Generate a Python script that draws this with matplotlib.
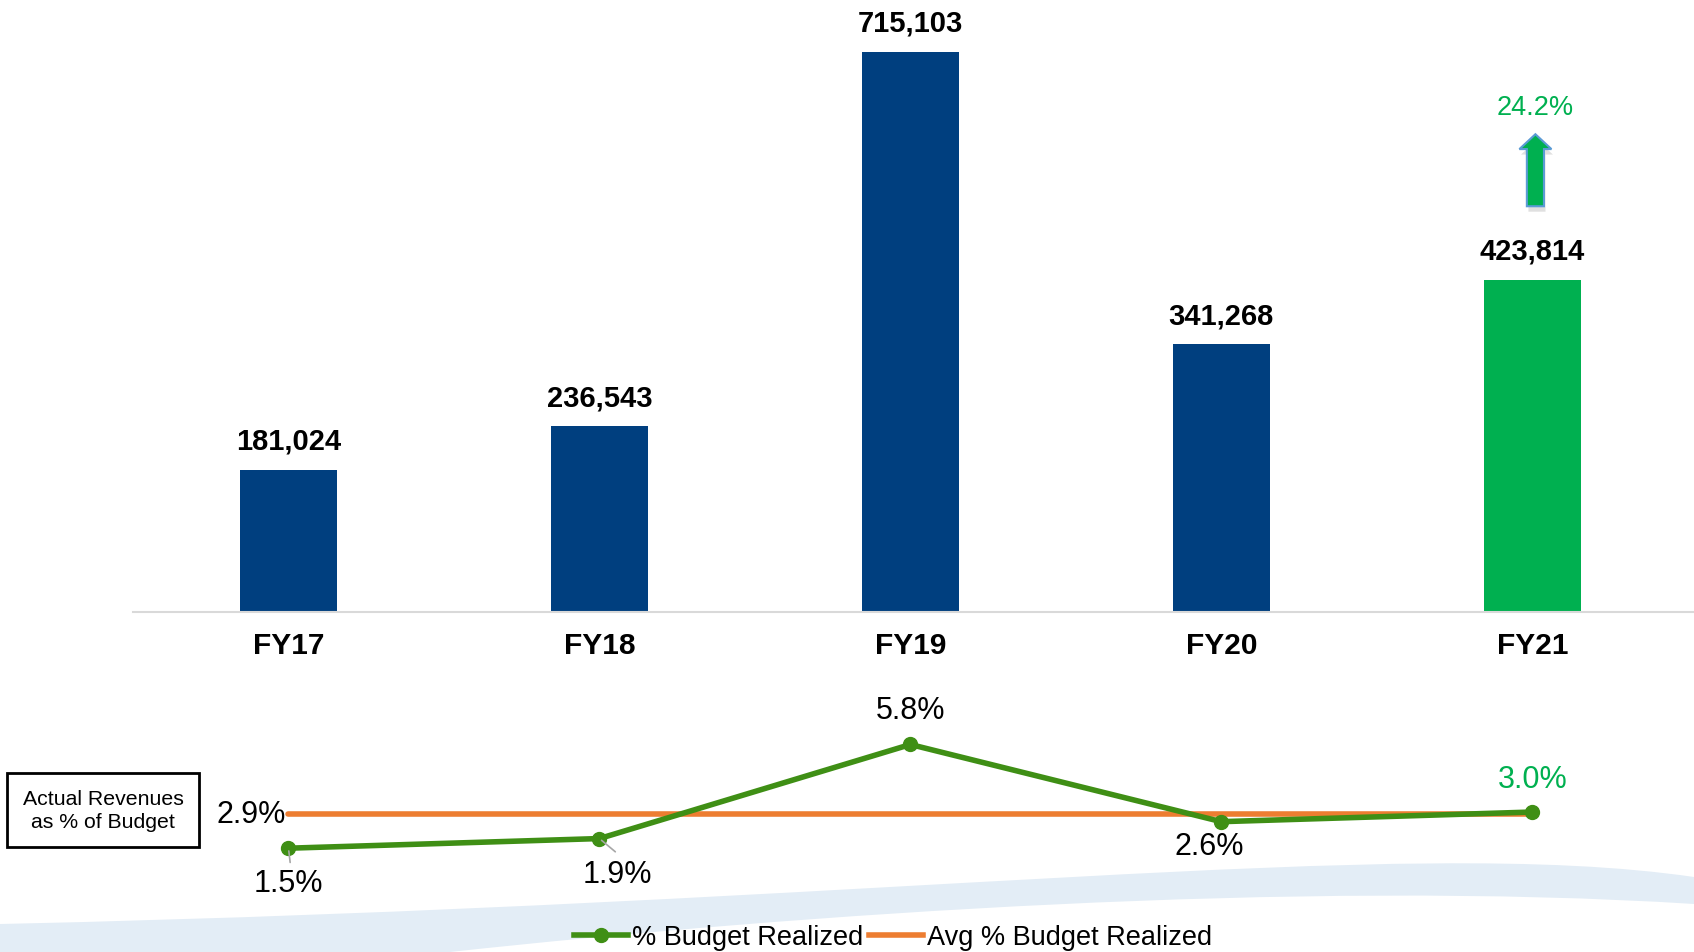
import matplotlib.pyplot as plt
from matplotlib.lines import Line2D
from matplotlib.patches import FancyArrow, PathPatch
from matplotlib.path import Path

plt.rcParams['font.family'] = ['Liberation Sans', 'DejaVu Sans']

# chart data
years = ["FY17", "FY18", "FY19", "FY20", "FY21"]
revenues = [181024, 236543, 715103, 341268, 423814]
pct_realized = [1.5, 1.9, 5.8, 2.6, 3.0]
avg_pct = 2.9
growth_label = "24.2%"

navy = "#003f7f"
green_bar = "#00b050"
line_green = "#3f8f15"
orange = "#ed7d31"

W, H = 1694, 953
fig = plt.figure(figsize=(W / 100, H / 100), dpi=100)

# background swoosh (decoration)
bg = fig.add_axes([0, 0, 1, 1], zorder=-5)
bg.set_xlim(0, W)
bg.set_ylim(H, 0)
bg.axis("off")
verts = [(0, 925), (900, 905), (1400, 835), (1694, 878),
         (1694, 905), (1300, 880), (800, 915), (450, 953),
         (0, 953), (0, 925)]
codes = [Path.MOVETO, Path.CURVE4, Path.CURVE4, Path.CURVE4,
         Path.LINETO, Path.CURVE4, Path.CURVE4, Path.CURVE4,
         Path.LINETO, Path.CLOSEPOLY]
bg.add_patch(PathPatch(Path(verts, codes), fc="#e3edf6", ec="none"))

# bar chart
x = list(range(len(years)))
ax = fig.add_axes([133 / W, 1 - 612.6 / H, 1 - 133 / W, 612.6 / H])
colors = [navy] * 4 + [green_bar]
ax.bar(x, revenues, width=0.31, color=colors)
ax.set_xlim(-0.5, 4.52)
ax.set_ylim(0, 612.6 / 559.8 * max(revenues))
for s in ["top", "right", "left"]:
    ax.spines[s].set_visible(False)
ax.spines["bottom"].set_color("#d9d9d9")
ax.spines["bottom"].set_linewidth(1.5)
ax.set_yticks([])
ax.set_xticks(x)
ax.set_xticklabels(years, fontsize=21.5, fontweight="bold")
ax.tick_params(axis="x", length=0, pad=14)
for xi, v in zip(x, revenues):
    ax.annotate(f"{v:,}", (xi, v), xytext=(0, 29), textcoords="offset pixels",
                ha="center", va="center", fontsize=21, fontweight="bold")

# growth arrow above FY21
base = revenues[-1] + 94000
length = 92000
ax.add_patch(FancyArrow(4.015, base - 7000, 0, length, width=0.055, head_width=0.103,
                        head_length=19000, length_includes_head=True,
                        color="#000000", alpha=0.12, lw=0))
ax.add_patch(FancyArrow(4.01, base, 0, length, width=0.055, head_width=0.103,
                        head_length=19000, length_includes_head=True,
                        fc=green_bar, ec="#5b9bd5", lw=1.5))
ax.text(4.01, base + length + 18000, growth_label, ha="center", va="bottom",
        fontsize=19.5, color=green_bar)

# percent line chart
lx = fig.add_axes([133 / W, 1 - 900 / H, 1 - 133 / W, 200 / H])
lx.set_xlim(-0.5, 4.52)
lx.set_ylim(1.5 - 50.8 / 24.12, 5.8 + 45.5 / 24.12)
lx.axis("off")
lx.plot([0, 4], [avg_pct, avg_pct], color=orange, lw=4, solid_capstyle="round")
lx.plot(x, pct_realized, color=line_green, lw=4, marker="o", markersize=10)

offsets = [(0, -35), (18, -35), (0, 34), (-12, -24), (0, 33)]
label_colors = ["black", "black", "black", "black", green_bar]
for xi, v, off, c in zip(x, pct_realized, offsets, label_colors):
    lx.annotate(f"{v:.1f}%", (xi, v), xytext=off, textcoords="offset pixels",
                ha="center", va="center", fontsize=22, color=c)
# leader lines for the two crowded labels
for xi, v, d in [(0, pct_realized[0], (2, -17)), (1, pct_realized[1], (18, -15))]:
    lx.annotate("", (xi, v), xytext=d, textcoords="offset pixels",
                arrowprops=dict(arrowstyle="-", color="#a6a6a6", lw=1.2))
lx.annotate(f"{avg_pct:.1f}%", (0, avg_pct), xytext=(-3, 0), textcoords="offset pixels",
            ha="right", va="center", fontsize=22)

fig.text(103 / W, 1 - 811 / H, "Actual Revenues\nas % of Budget", ha="center", va="center",
         fontsize=15.3, linespacing=1.3,
         bbox=dict(boxstyle="square,pad=0.72", fc="white", ec="black", lw=2))

handles = [Line2D([], [], color=line_green, lw=4, marker="o", markersize=10),
           Line2D([], [], color=orange, lw=4)]
fig.legend(handles, ["% Budget Realized", "Avg % Budget Realized"], loc="center",
           bbox_to_anchor=(893 / W, 1 - 938 / H), ncol=2, frameon=False, fontsize=19.5,
           handlelength=2.0, handletextpad=0.15, columnspacing=0.2)

fig.savefig("out.png", dpi=100)
